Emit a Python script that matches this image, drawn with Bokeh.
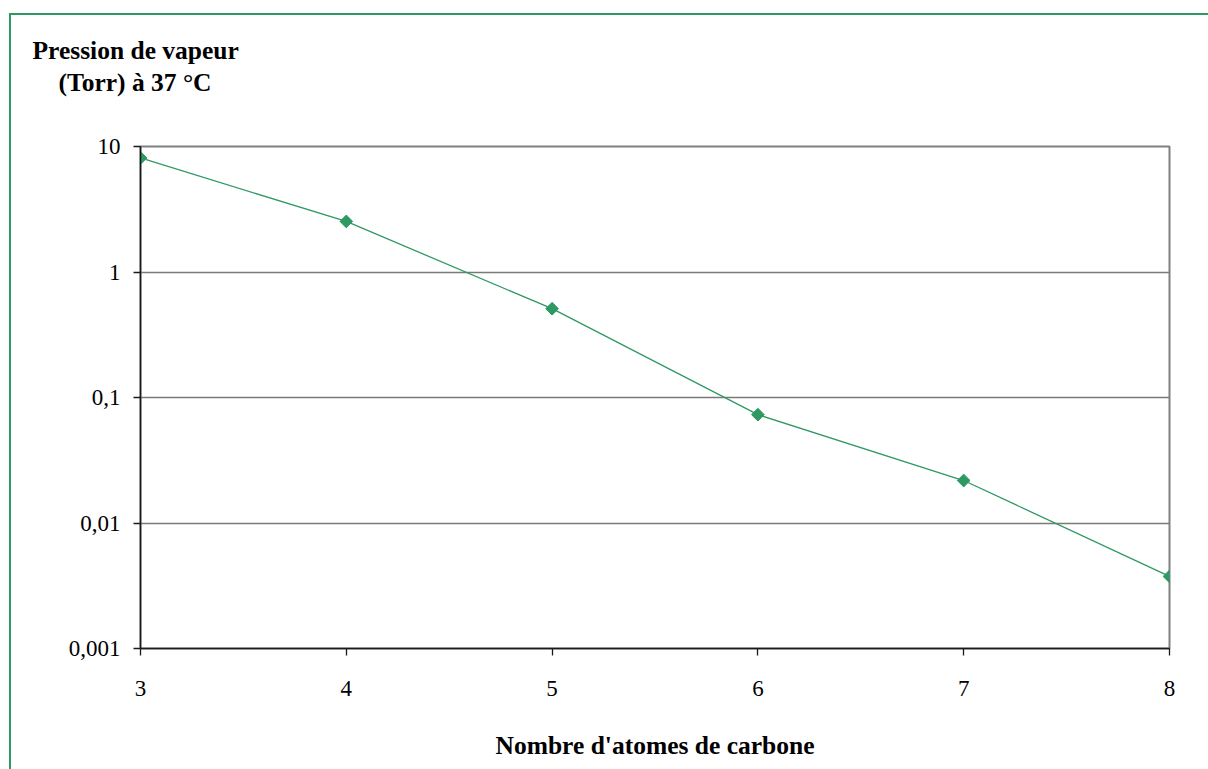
import math
from bokeh.plotting import figure
from bokeh.models import Range1d, FixedTicker, Title
from bokeh.embed import file_html
from bokeh.resources import INLINE

# data
carbons = [3, 4, 5, 6, 7, 8]
pressure = [8.1, 2.53, 0.51, 0.073, 0.0218, 0.00375]
y_ticks = [0.001, 0.01, 0.1, 1, 10]
y_tick_labels = ["0,001", "0,01", "0,1", "1", "10"]
x_ticks = [3, 4, 5, 6, 7, 8]
title_lines = ["Pression de vapeur", "(Torr) à 37 °C"]
x_title = "Nombre d'atomes de carbone"

GREEN = "#2e9962"
FONT = "Liberation Serif"

OX, OY = 11, 15          # element offset in page (green strip drawn just outside)
W, H = 1208 - OX, 769 - OY
FL, FT, FR, FB = 140 - OX, 146 - OY, 1169 - OX, 648 - OY  # frame edges in element pixels
p = figure(width=W, height=H, output_backend="svg", toolbar_location=None,
           y_axis_type="log", x_range=Range1d(3, 8), y_range=Range1d(0.001, 10),
           min_border_left=FL, min_border_top=FT, min_border_right=W - FR,
           min_border_bottom=H - FB)
p.margin = (OY, 0, 0, OX)
p.styles = {"box-shadow": f"-1px -1px 0px 1px {GREEN}"}
p.background_fill_color = "white"
p.border_fill_color = "white"
p.outline_line_color = "#808080"
p.outline_line_width = 2

p.xgrid.grid_line_color = None
p.ygrid.grid_line_color = "#7a7a7a"
p.ygrid.grid_line_width = 1.4
p.ygrid.ticker = FixedTicker(ticks=y_ticks)

for ax in (p.xaxis[0], p.yaxis[0]):
    ax.axis_line_color = "#1a1a1a"
    ax.axis_line_width = 1.5
    ax.major_tick_line_color = "#1a1a1a"
    ax.major_tick_line_width = 1.3
    ax.major_tick_out = 7
    ax.major_tick_in = 0
    ax.minor_tick_line_color = None
    ax.major_label_text_font = FONT
    ax.major_label_text_font_size = "23px"
    ax.major_label_text_color = "black"

p.yaxis.ticker = FixedTicker(ticks=y_ticks)
p.yaxis.major_label_overrides = {t: l for t, l in zip(y_ticks, y_tick_labels)}
p.yaxis.major_label_standoff = 13
p.xaxis.ticker = FixedTicker(ticks=x_ticks)
p.xaxis.major_label_standoff = 25

# x title (centred on the plot area)
p.xaxis.axis_label = x_title
p.xaxis.axis_label_text_font = FONT
p.xaxis.axis_label_text_font_style = "bold"
p.xaxis.axis_label_text_font_size = "25.5px"
p.xaxis.axis_label_text_color = "black"
p.xaxis.axis_label_standoff = 32

p.line(carbons, pressure, line_color=GREEN, line_width=1.3)
p.scatter(carbons, pressure, marker="square", angle=math.pi / 4, size=9,
          fill_color=GREEN, line_color=GREEN)

# y title block: inner line added first, outer line after
p.add_layout(Title(text=title_lines[1], align="left", offset=-82, standoff=100,
                   text_font=FONT, text_font_style="bold", text_font_size="25.5px",
                   text_color="black"), "above")
p.add_layout(Title(text=title_lines[0], align="left", offset=-108, standoff=-99,
                   text_font=FONT, text_font_style="bold", text_font_size="25.5px",
                   text_color="black"), "above")

open("out.html", "w").write(file_html(p, INLINE))
